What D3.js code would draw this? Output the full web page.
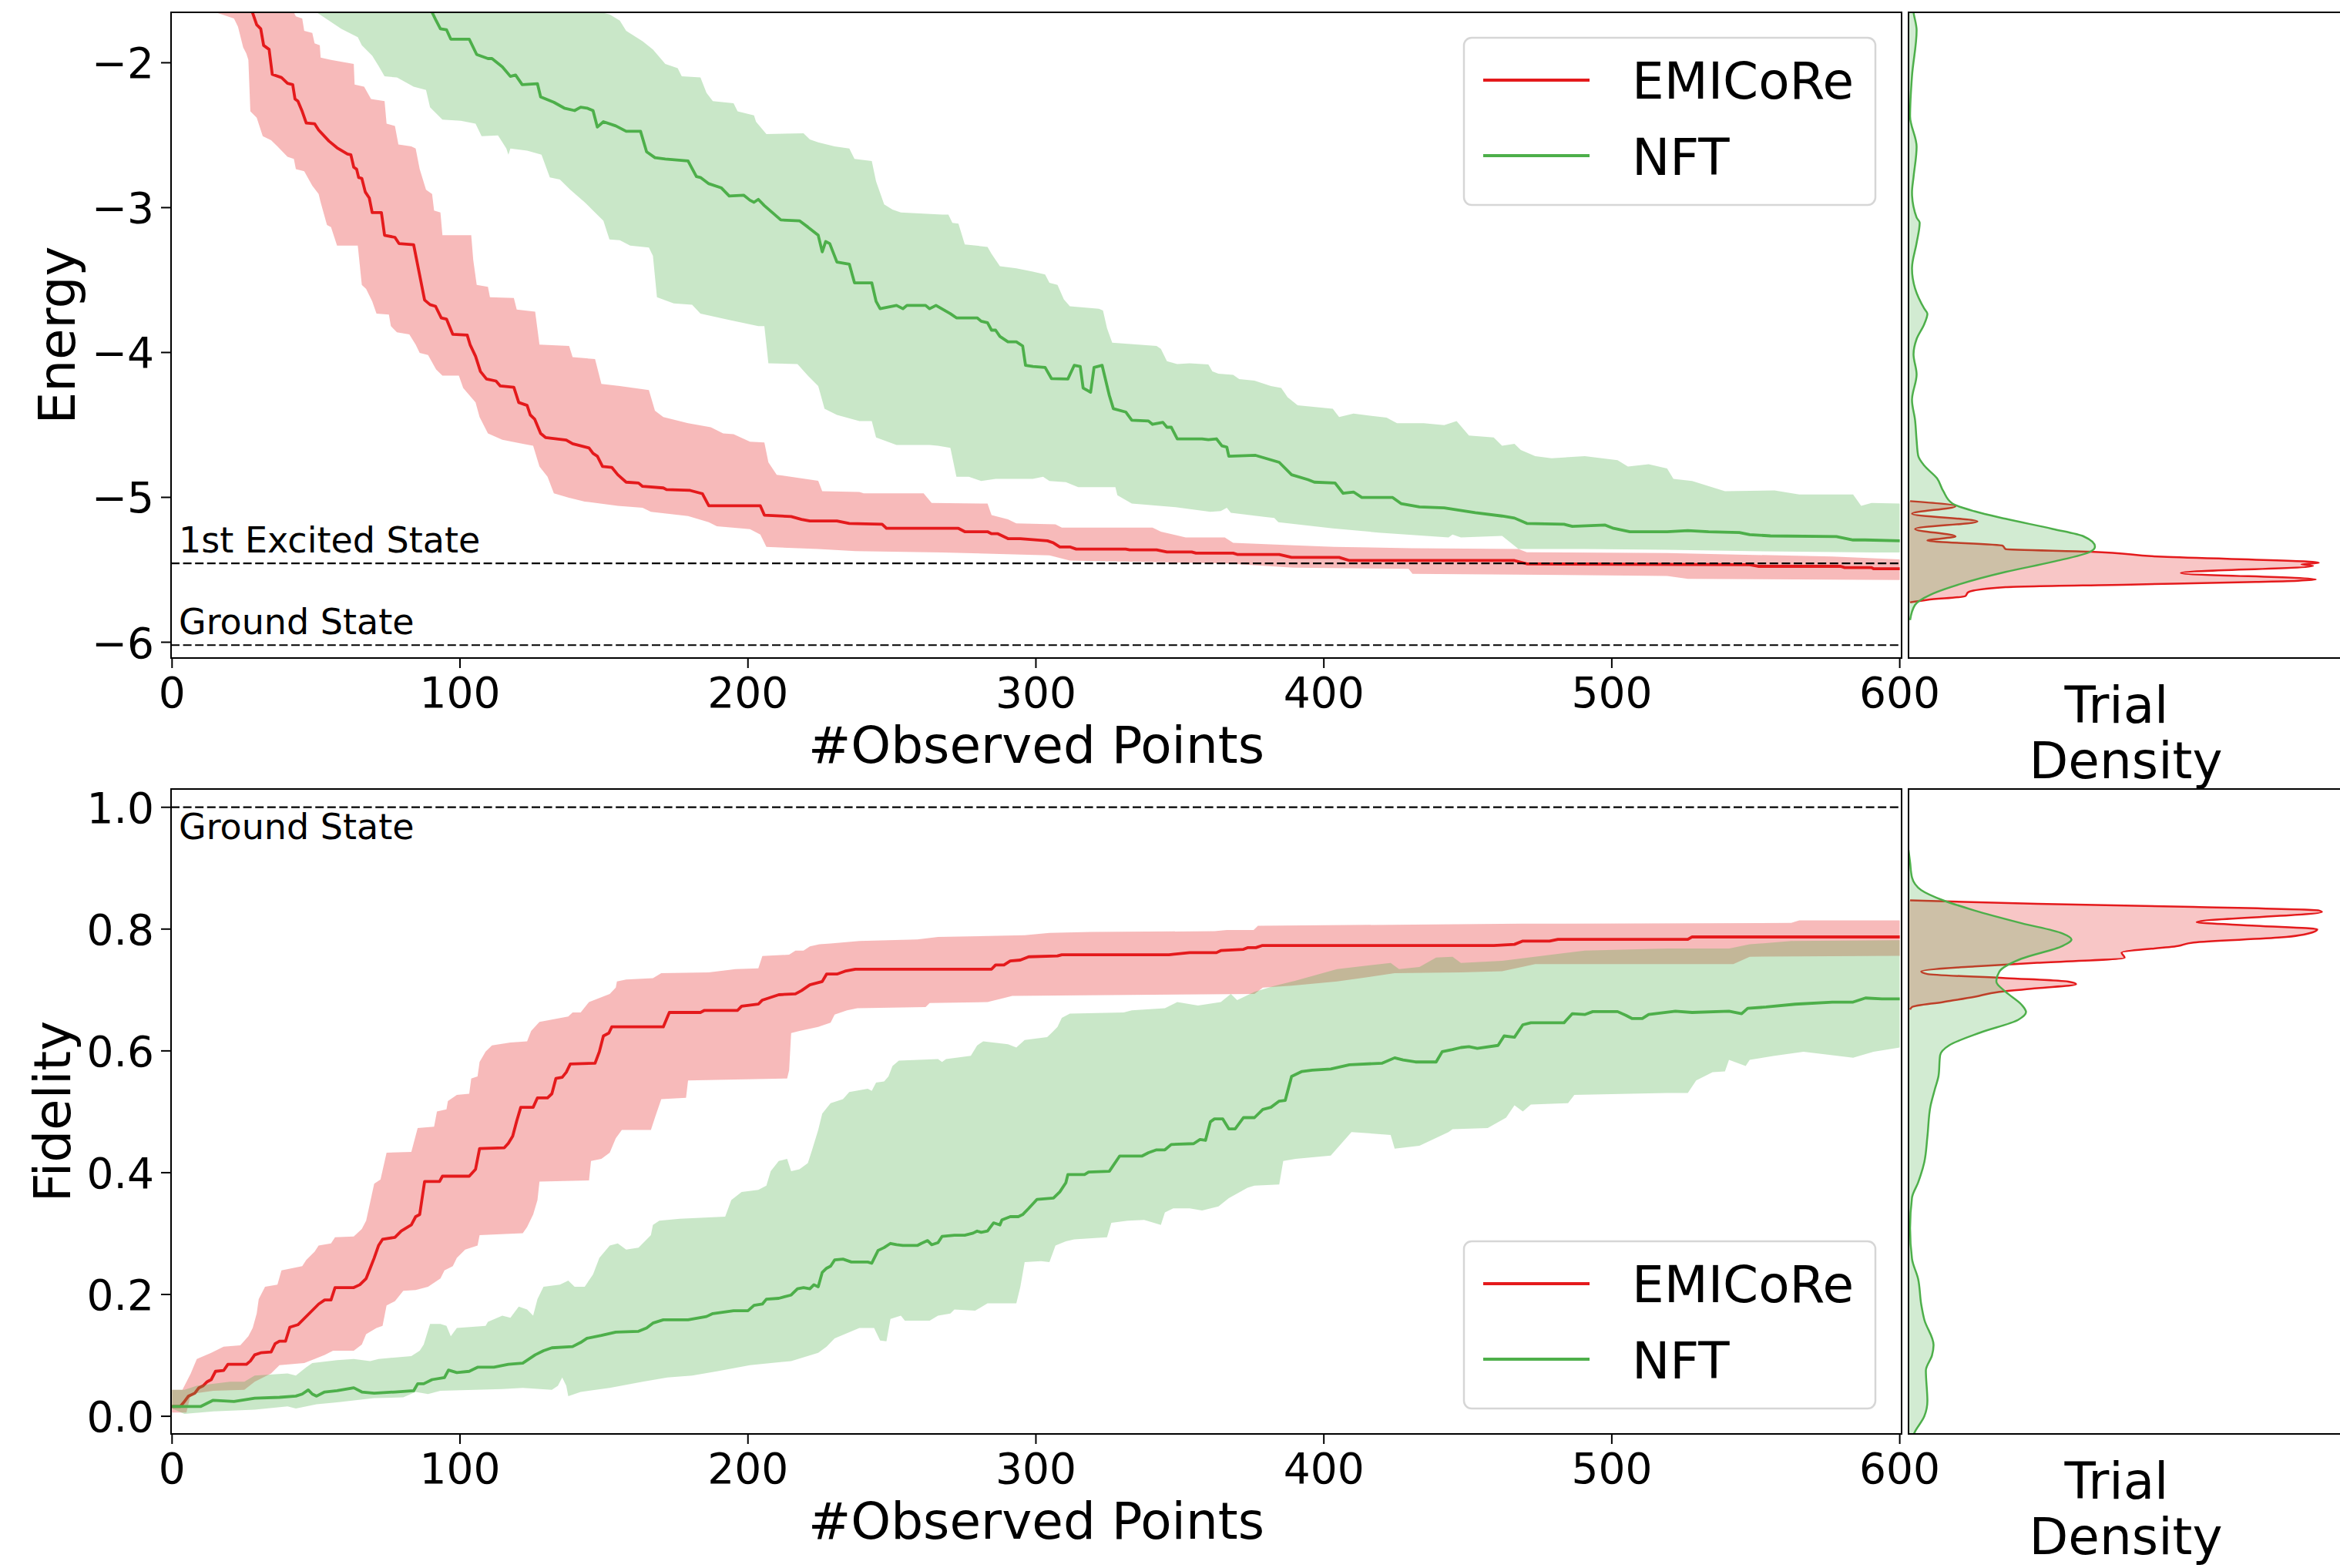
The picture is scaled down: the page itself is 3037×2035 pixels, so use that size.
<!DOCTYPE html>
<html>
<head>
<meta charset="utf-8">
<script src="https://cdn.jsdelivr.net/npm/d3@7"></script>
<style>
  body { margin: 0; background: #fff; }
  text { font-family: "DejaVu Sans", sans-serif; }
</style>
</head>
<body>
<script>
// ---- data: [#observed points, value] ----
var energyEmiMean = [[25,-1.55],[27.9,-1.652],[29.4,-1.738],[30.8,-1.766],[31.8,-1.88],[33.7,-1.908],[34.8,-2.08],[38,-2.102],[40.1,-2.142],[41.9,-2.151],[42.7,-2.25],[43.7,-2.265],[45.2,-2.336],[46.6,-2.416],[49.5,-2.421],[50.9,-2.464],[54.5,-2.541],[57.3,-2.587],[60.9,-2.63],[62.1,-2.635],[63.1,-2.721],[64.1,-2.735],[64.8,-2.792],[65.9,-2.798],[67.1,-2.892],[68.5,-2.934],[69.5,-3.034],[72.7,-3.034],[73.8,-3.191],[77.4,-3.205],[78.8,-3.248],[83.9,-3.256],[87.7,-3.638],[89.6,-3.67],[91.5,-3.681],[93.5,-3.761],[95.3,-3.769],[97.5,-3.875],[102.5,-3.88],[103.5,-3.946],[105.4,-4.026],[107.1,-4.131],[109.2,-4.183],[112.5,-4.197],[114,-4.231],[118.7,-4.24],[120.4,-4.345],[123.3,-4.365],[124.4,-4.431],[125.9,-4.459],[128,-4.559],[129.7,-4.587],[136.9,-4.604],[139.1,-4.63],[144.8,-4.659],[146.2,-4.696],[147.7,-4.716],[149.5,-4.787],[152.7,-4.793],[154.8,-4.844],[157.7,-4.895],[162,-4.901],[163.4,-4.924],[170.6,-4.935],[171.7,-4.946],[179.9,-4.952],[184.2,-4.975],[186.4,-5.058],[204.3,-5.058],[205.7,-5.123],[215,-5.132],[218.6,-5.152],[221.5,-5.163],[230.9,-5.163],[235.2,-5.18],[246.6,-5.186],[248.1,-5.214],[273.1,-5.214],[275.3,-5.237],[283.2,-5.237],[284.6,-5.251],[286.8,-5.251],[290.3,-5.285],[294.6,-5.285],[304,-5.3],[306.1,-5.314],[308.3,-5.342],[311.8,-5.342],[314,-5.357],[331.2,-5.357],[332.6,-5.362],[341.9,-5.362],[345.5,-5.377],[354.1,-5.377],[355.6,-5.385],[368.5,-5.385],[369.9,-5.394],[384.5,-5.394],[388.8,-5.414],[405.3,-5.414],[408.9,-5.436],[466.2,-5.436],[470.5,-5.459],[547.9,-5.465],[550.8,-5.476],[579.5,-5.476],[580.9,-5.485],[590.2,-5.485],[590.9,-5.493],[600,-5.493]];
var energyEmiLo = [[13,-1.6],[15.1,-1.652],[21.5,-1.695],[22.9,-1.752],[24.7,-1.894],[25.8,-1.937],[26.5,-1.98],[27.2,-2.336],[29.4,-2.379],[31.5,-2.507],[34.4,-2.535],[36.6,-2.578],[40.1,-2.649],[42.3,-2.664],[43,-2.735],[45.9,-2.749],[48.7,-2.849],[50.9,-2.906],[51.6,-2.963],[53.8,-3.12],[55.2,-3.134],[57.3,-3.262],[64.5,-3.262],[65.9,-3.533],[67.4,-3.561],[69.5,-3.647],[71,-3.732],[75.3,-3.738],[76,-3.818],[78.1,-3.861],[82.4,-3.875],[84.6,-3.946],[86,-4.003],[88.9,-4.017],[91.7,-4.117],[93.9,-4.16],[99.6,-4.16],[101.1,-4.245],[105.4,-4.345],[106.8,-4.445],[109.7,-4.559],[114.7,-4.602],[121.8,-4.63],[125.4,-4.644],[127.6,-4.787],[130.4,-4.858],[132.6,-4.972],[137.6,-5.001],[143.3,-5.029],[154.8,-5.058],[163.4,-5.072],[166.3,-5.1],[179.2,-5.129],[186.4,-5.172],[189.2,-5.2],[200.7,-5.22],[204.3,-5.257],[206.4,-5.342],[224.4,-5.357],[237.3,-5.371],[267.4,-5.38],[304.7,-5.4],[311.8,-5.436],[324.7,-5.442],[366.3,-5.456],[389.3,-5.485],[429.4,-5.493],[430.8,-5.528],[519.2,-5.542],[526.4,-5.562],[600,-5.57]];
var energyEmiHi = [[41,-1.6],[43,-1.68],[45.2,-1.695],[45.9,-1.78],[48.7,-1.794],[49.5,-1.866],[51.3,-1.88],[51.6,-1.965],[55.2,-1.98],[63.1,-2.008],[63.4,-2.151],[66.7,-2.165],[69.1,-2.25],[73.8,-2.265],[74.5,-2.421],[77.4,-2.436],[78.6,-2.564],[83.1,-2.578],[84.6,-2.592],[86,-2.735],[88.2,-2.877],[90.3,-2.906],[91,-3.02],[93.2,-3.034],[93.9,-3.191],[103.9,-3.191],[104.6,-3.362],[105.8,-3.533],[109.7,-3.547],[110.4,-3.618],[118.7,-3.624],[119.7,-3.704],[126.1,-3.718],[127.6,-3.946],[137.9,-3.955],[139.1,-4.032],[146.9,-4.046],[149.1,-4.217],[155.5,-4.231],[165.6,-4.26],[167.7,-4.402],[170.6,-4.445],[179.2,-4.488],[187.1,-4.516],[191.4,-4.559],[195,-4.564],[200.7,-4.616],[205.7,-4.621],[207.1,-4.758],[210,-4.844],[224.4,-4.886],[225.8,-4.958],[238.7,-4.963],[240.2,-4.972],[261,-4.972],[263.8,-5.038],[283.2,-5.043],[284.6,-5.123],[290.3,-5.152],[293.2,-5.18],[306.8,-5.186],[309,-5.209],[340.5,-5.209],[343.4,-5.237],[352,-5.277],[365.6,-5.277],[368.5,-5.314],[386.4,-5.328],[403.6,-5.342],[430.4,-5.351],[467.6,-5.357],[470.5,-5.379],[519.2,-5.385],[576.6,-5.408],[600,-5.428]];

var energyNftMean = [[88,-1.58],[90.3,-1.652],[91.7,-1.709],[93.2,-1.766],[95.3,-1.772],[96.8,-1.837],[103.2,-1.837],[105.8,-1.943],[109.7,-1.971],[111.1,-1.971],[114.7,-2.028],[117.5,-2.094],[119.3,-2.085],[121.6,-2.151],[126.9,-2.145],[128,-2.236],[132.6,-2.273],[136.2,-2.313],[139.8,-2.33],[141.9,-2.307],[144.1,-2.313],[146.2,-2.33],[147.7,-2.444],[149.8,-2.407],[154.1,-2.436],[157.7,-2.473],[162.7,-2.473],[164.8,-2.615],[167.7,-2.655],[171.3,-2.664],[179.2,-2.678],[182.1,-2.786],[183.5,-2.792],[186.4,-2.835],[190.7,-2.863],[193.5,-2.92],[198.5,-2.914],[200.7,-2.949],[202.1,-2.963],[203.6,-2.943],[205.7,-2.986],[211.4,-3.085],[217.9,-3.091],[220.8,-3.134],[224.4,-3.191],[225.8,-3.305],[227,-3.234],[228.4,-3.248],[230.9,-3.376],[235.2,-3.39],[237,-3.519],[243,-3.519],[244.5,-3.647],[245.9,-3.698],[251.6,-3.675],[253.8,-3.698],[255.2,-3.675],[261.7,-3.675],[263.1,-3.698],[265.3,-3.675],[270.3,-3.732],[272.4,-3.761],[279.6,-3.761],[281,-3.784],[283.2,-3.795],[284.6,-3.846],[286,-3.846],[287.5,-3.889],[290.3,-3.926],[293.2,-3.926],[295.4,-3.955],[296.4,-4.089],[299,-4.097],[303.2,-4.103],[305.4,-4.18],[311.1,-4.183],[313.3,-4.089],[315.4,-4.097],[316.4,-4.245],[319,-4.274],[320.2,-4.103],[323,-4.089],[325.5,-4.297],[326.9,-4.388],[331.2,-4.411],[333.3,-4.468],[339.1,-4.473],[340.5,-4.496],[344.1,-4.482],[345.5,-4.516],[347,-4.516],[349.1,-4.596],[357.7,-4.596],[359.9,-4.602],[362.7,-4.596],[364.6,-4.644],[366.3,-4.653],[367,-4.716],[376.3,-4.71],[384.5,-4.758],[388.8,-4.844],[394.5,-4.878],[396.7,-4.895],[403.9,-4.901],[406.7,-4.972],[410.3,-4.963],[413.2,-5.001],[423.9,-5.001],[426.8,-5.043],[433.2,-5.066],[441.8,-5.072],[446.1,-5.086],[452.6,-5.106],[461.9,-5.129],[466.2,-5.143],[470.5,-5.18],[483.4,-5.186],[486.3,-5.2],[497.7,-5.191],[500.6,-5.214],[506.3,-5.237],[519.2,-5.237],[526.4,-5.229],[533.6,-5.237],[544.3,-5.243],[547.9,-5.257],[555.1,-5.266],[578,-5.271],[583.8,-5.294],[588,-5.294],[600,-5.3]];
var energyNftLo = [[48,-1.6],[50.2,-1.652],[54.5,-1.709],[58.8,-1.766],[64.5,-1.823],[65.9,-1.88],[69.5,-1.951],[71.7,-2.022],[73.8,-2.094],[78.1,-2.102],[83.9,-2.165],[88.2,-2.188],[89.6,-2.307],[93.9,-2.393],[100.3,-2.401],[105.4,-2.421],[107.5,-2.507],[113.2,-2.501],[116.1,-2.592],[116.8,-2.635],[117.5,-2.592],[123.3,-2.607],[128.3,-2.635],[131.2,-2.792],[134.7,-2.806],[138.3,-2.877],[143.3,-2.963],[146.2,-3.02],[149.8,-3.091],[151.9,-3.219],[155.5,-3.225],[159.1,-3.262],[165.6,-3.276],[167,-3.333],[168.4,-3.618],[174.2,-3.661],[180.6,-3.67],[183.5,-3.732],[193.5,-3.775],[203.6,-3.818],[205.7,-3.818],[207.1,-4.074],[217.2,-4.08],[220.8,-4.16],[224.4,-4.231],[226.6,-4.388],[230.9,-4.431],[238.7,-4.473],[243,-4.473],[244.5,-4.587],[251.6,-4.639],[263.1,-4.639],[266,-4.644],[270.3,-4.659],[272.4,-4.858],[276.7,-4.858],[281,-4.887],[286,-4.872],[298.9,-4.872],[302.5,-4.858],[304.7,-4.887],[310.4,-4.895],[314.7,-4.929],[327.6,-4.929],[328.3,-4.986],[333.3,-5.043],[347.7,-5.066],[360.6,-5.1],[364.2,-5.095],[366.3,-5.072],[367.7,-5.106],[379.2,-5.134],[382.8,-5.143],[384.2,-5.172],[403.1,-5.214],[418.9,-5.243],[443.3,-5.277],[444.7,-5.257],[447.6,-5.277],[461.9,-5.266],[467.6,-5.357],[490.6,-5.357],[519.2,-5.362],[547.9,-5.371],[590.9,-5.38],[600,-5.38]];
var energyNftHi = [[147,-1.6],[149.1,-1.652],[152,-1.666],[155.5,-1.709],[157.7,-1.78],[163.4,-1.851],[167,-1.908],[171.3,-2.008],[175.6,-2.037],[177,-2.094],[183.5,-2.102],[185.6,-2.208],[187.8,-2.265],[195,-2.279],[196.4,-2.336],[202.1,-2.364],[202.8,-2.407],[206.4,-2.493],[219.3,-2.487],[221.5,-2.53],[224.4,-2.55],[230.1,-2.578],[235.2,-2.592],[237,-2.664],[243,-2.678],[244.5,-2.82],[247.3,-2.977],[250.2,-3.014],[253.1,-3.034],[267.4,-3.048],[269.6,-3.048],[271,-3.105],[273.1,-3.111],[275.3,-3.254],[283.2,-3.271],[284.6,-3.319],[287.5,-3.405],[293.2,-3.419],[298.9,-3.442],[303.2,-3.462],[304.7,-3.519],[307.5,-3.533],[309.7,-3.633],[311.8,-3.681],[321.9,-3.698],[323.3,-3.71],[324.7,-3.832],[326.5,-3.932],[341.9,-3.955],[343.4,-3.975],[345.5,-4.06],[349.1,-4.08],[353.4,-4.074],[359.9,-4.083],[361.3,-4.131],[363.4,-4.146],[368.5,-4.154],[370.6,-4.183],[375.9,-4.194],[381.6,-4.231],[385.2,-4.245],[387.4,-4.308],[390.9,-4.365],[403.1,-4.388],[405.3,-4.445],[410.3,-4.422],[421.8,-4.45],[425.4,-4.488],[434.7,-4.488],[441.8,-4.502],[446.1,-4.473],[450.4,-4.573],[459,-4.587],[461.9,-4.644],[466.2,-4.63],[468.4,-4.673],[473.4,-4.716],[479.1,-4.73],[490.6,-4.716],[502,-4.744],[505.6,-4.787],[512.8,-4.772],[519.2,-4.801],[521.4,-4.872],[527.9,-4.887],[539.3,-4.958],[556.5,-4.952],[565.1,-4.98],[583.8,-4.98],[586.6,-5.058],[590.2,-5.038],[600,-5.043]];

var fidEmiMean = [[0,0.0162],[2.9,0.0162],[4.3,0.0243],[5.7,0.0331],[7.9,0.0379],[9.3,0.0467],[10.8,0.0501],[12.2,0.0568],[13.6,0.0602],[15.1,0.0738],[17.9,0.0751],[19.4,0.0853],[25.8,0.0853],[27.2,0.0907],[28.7,0.1008],[30.8,0.1042],[34.4,0.1056],[35.8,0.1191],[37.3,0.1232],[39.4,0.1232],[40.9,0.1462],[43.7,0.1503],[50.9,0.1842],[53,0.191],[55.2,0.191],[56.6,0.2113],[63.1,0.2113],[65.2,0.216],[67.4,0.2262],[68.8,0.2431],[70.2,0.26],[71.7,0.2803],[73.1,0.2905],[77.4,0.2939],[79.6,0.3041],[83.1,0.3142],[84.6,0.3278],[86,0.3312],[87.7,0.3854],[92.9,0.3854],[93.9,0.3942],[103.2,0.3942],[105.4,0.4057],[106.8,0.4396],[115.4,0.4409],[116.8,0.4484],[118.3,0.4599],[119.7,0.4849],[121.1,0.5073],[125.4,0.5073],[126.9,0.5229],[130.4,0.5229],[131.9,0.5296],[133.3,0.5547],[135.5,0.5567],[136.9,0.5649],[138.3,0.5784],[146.9,0.5798],[148.4,0.5987],[149.8,0.6245],[151.7,0.6292],[152.7,0.6394],[170.6,0.6394],[172.7,0.6631],[183.5,0.6631],[184.9,0.6665],[196.4,0.6665],[197.8,0.6733],[203.6,0.6767],[205,0.6834],[210.7,0.6922],[216.5,0.6936],[218.6,0.699],[221.5,0.7085],[225.8,0.7139],[227.3,0.7261],[230.9,0.7261],[233.7,0.7308],[237.3,0.7342],[284.6,0.7342],[286,0.741],[288.9,0.741],[291.1,0.7478],[294.6,0.7491],[297.5,0.7545],[307.5,0.7559],[309,0.7579],[346.2,0.7579],[353.4,0.7613],[362.7,0.7613],[364.2,0.7647],[372.1,0.7668],[373.5,0.7695],[376.4,0.7695],[378.5,0.7729],[459,0.7729],[466.2,0.7749],[469.1,0.7803],[478.4,0.7803],[481.3,0.783],[526.4,0.783],[527.9,0.7871],[600,0.7871]];
var fidEmiLo = [[0,0.006],[5,0.006],[6.5,0.0365],[14.3,0.0419],[25.1,0.0433],[28.7,0.0568],[34.4,0.0704],[37.3,0.0839],[45.9,0.0873],[49.5,0.0941],[53,0.1008],[55.9,0.1076],[63.1,0.1076],[65.9,0.1178],[67.4,0.1347],[71,0.1449],[73.1,0.1483],[74.5,0.1821],[77.4,0.1889],[80.3,0.2059],[84.6,0.2072],[88.9,0.2126],[93.2,0.2262],[94.6,0.2397],[97.5,0.2465],[98.9,0.26],[101.8,0.2736],[106.1,0.2804],[106.8,0.2973],[121.8,0.3007],[123.3,0.3108],[125.4,0.3312],[126.9,0.3549],[127.6,0.3854],[144.8,0.3874],[145.5,0.4192],[149.1,0.4226],[152,0.4328],[154.1,0.4565],[156.2,0.47],[166.3,0.47],[167.7,0.4904],[169.9,0.5209],[178.5,0.5229],[179.2,0.5513],[213.6,0.5547],[214.3,0.5683],[215,0.6292],[217.9,0.6326],[224.4,0.6394],[228.7,0.6462],[230.1,0.6597],[234.4,0.6665],[238,0.6699],[261.7,0.672],[263.1,0.6787],[283.2,0.6801],[288.9,0.6868],[291.8,0.6902],[375.9,0.6936],[378.8,0.7038],[388.8,0.7072],[404.6,0.7139],[424.6,0.7275],[447.6,0.7288],[461.9,0.7309],[473.4,0.7424],[542.2,0.7424],[547.9,0.7546],[600,0.756]];
var fidEmiHi = [[0,0.0433],[3.6,0.0433],[6.5,0.0704],[8.6,0.0941],[13.6,0.1042],[17.9,0.1144],[23.7,0.1165],[26.5,0.1313],[28,0.1449],[29.4,0.1686],[30.1,0.1923],[32.3,0.2126],[36.6,0.216],[38,0.2397],[45.2,0.2465],[46.6,0.2566],[49.5,0.2702],[50.9,0.2804],[55.2,0.2837],[56.6,0.2939],[63.1,0.2953],[65.9,0.3075],[67.4,0.321],[68.8,0.3515],[70.2,0.382],[72.4,0.3888],[74.5,0.4328],[83.1,0.4341],[85.3,0.4734],[91,0.4755],[92,0.5005],[95.3,0.5039],[95.8,0.5175],[98.9,0.5276],[103.2,0.5297],[103.9,0.5547],[106.1,0.5581],[106.8,0.5818],[108.9,0.5988],[111.1,0.6089],[117.5,0.6136],[123.3,0.6157],[124.7,0.6326],[127.6,0.6475],[137.6,0.6563],[139.1,0.6631],[141.9,0.6631],[144.8,0.6801],[152,0.6936],[154.1,0.7038],[154.5,0.7139],[157.7,0.7173],[167,0.7193],[169.9,0.7275],[186.4,0.7288],[195.7,0.7342],[203.6,0.7356],[205,0.7559],[214.3,0.7579],[216.5,0.7647],[219.3,0.7647],[221.5,0.7715],[224.8,0.7749],[228.7,0.7762],[238.7,0.7803],[258.8,0.783],[266,0.7871],[296.1,0.7898],[304.7,0.7938],[319,0.7952],[362,0.7965],[366.3,0.7986],[375.6,0.7986],[377.1,0.8054],[469.1,0.8088],[562.3,0.8101],[565.1,0.8142],[600,0.8142]];

var fidNftMean = [[0,0.0162],[10,0.0162],[14.3,0.0263],[21.5,0.0243],[28.7,0.0297],[37.3,0.0311],[43,0.0331],[45.2,0.0365],[47.3,0.0433],[48.7,0.0365],[50.2,0.0331],[53,0.0399],[57.3,0.0419],[63.1,0.0467],[65.9,0.0399],[70.2,0.0379],[77.4,0.0399],[83.9,0.0419],[85.3,0.0534],[87.4,0.0534],[90.3,0.0602],[94.6,0.0636],[96,0.0758],[98.9,0.0717],[103.2,0.0738],[106.1,0.0805],[111.8,0.0805],[116.8,0.0853],[121.8,0.0873],[124,0.0941],[126.1,0.1008],[129,0.1076],[131.9,0.1124],[139.1,0.1144],[141.9,0.1212],[144.1,0.128],[149.1,0.1327],[154.1,0.1381],[162,0.1395],[164.8,0.1449],[167,0.153],[170.6,0.1584],[179.2,0.1584],[185.6,0.1638],[187.8,0.1686],[195,0.1733],[200,0.1733],[202.1,0.1821],[205,0.1842],[206.4,0.1923],[210.7,0.1937],[215,0.1991],[217.2,0.2093],[219.3,0.2113],[221.5,0.2093],[222.9,0.216],[224.4,0.2126],[225.8,0.2363],[227.3,0.2431],[228.7,0.2465],[230.1,0.2567],[233,0.258],[235.9,0.2533],[241.6,0.2533],[243,0.2513],[245.2,0.2723],[247.3,0.277],[249.5,0.2838],[251.6,0.2817],[253.8,0.2804],[258.8,0.2804],[260.2,0.2838],[262.4,0.2885],[263.8,0.2817],[266,0.2851],[267.4,0.2953],[271.7,0.2973],[275.3,0.2973],[278.2,0.3007],[279.6,0.3041],[281,0.302],[283.2,0.3041],[285.3,0.3176],[287.5,0.3142],[288.2,0.3224],[291.1,0.3278],[293.9,0.3278],[295.4,0.3312],[297.5,0.3414],[300.4,0.3562],[306.1,0.3583],[308.3,0.3684],[310.4,0.3834],[311.1,0.3969],[316.9,0.3969],[318.3,0.401],[325.5,0.4023],[329.1,0.4274],[336.9,0.4274],[339.1,0.4328],[341.9,0.4375],[344.8,0.4375],[347,0.4463],[354.8,0.4477],[357,0.4545],[358.9,0.4531],[360.6,0.4836],[362,0.4883],[364.9,0.4883],[367,0.472],[369.2,0.472],[372.1,0.4904],[375.9,0.4904],[378.8,0.5039],[381.6,0.5073],[384.5,0.5175],[386.6,0.5188],[388.8,0.5581],[392.4,0.5662],[396,0.5683],[402.4,0.5703],[408.9,0.5771],[420.3,0.5798],[424.6,0.5886],[427.5,0.5852],[431.8,0.5818],[439,0.5818],[441.1,0.5987],[444.7,0.6021],[447.6,0.6055],[450.4,0.6069],[453.3,0.6042],[460.5,0.609],[462.6,0.6245],[466.2,0.6225],[469.1,0.6428],[471.9,0.6462],[483.4,0.6462],[486.3,0.6611],[490.6,0.6597],[493.4,0.6645],[502,0.6645],[504.9,0.6584],[507.1,0.653],[510.6,0.653],[512.8,0.6597],[522.1,0.6651],[527.9,0.6631],[540.7,0.6651],[545.1,0.6611],[547.2,0.6699],[553.6,0.672],[563.7,0.6767],[576.6,0.6801],[583.8,0.6801],[588.1,0.6868],[593.8,0.6855],[600,0.6855]];
var fidNftLo = [[0,0.0128],[4.3,0.004],[14.3,0.0081],[28.7,0.0108],[40.1,0.0162],[43,0.0128],[50.2,0.0196],[57.3,0.023],[70.2,0.0297],[80.3,0.0311],[84.6,0.0399],[88.9,0.0365],[93.2,0.0419],[114.7,0.0446],[121.8,0.0467],[131.9,0.0433],[134,0.0501],[135.5,0.0636],[136.9,0.0501],[137.6,0.0331],[141.9,0.0399],[152,0.0467],[163.4,0.0568],[172,0.0636],[180.6,0.067],[189.2,0.0738],[200.7,0.0839],[215,0.0907],[224.4,0.1042],[227.3,0.1144],[230.1,0.1279],[238.7,0.1449],[243.8,0.1449],[245.9,0.1245],[248.1,0.1232],[249.5,0.1598],[253.1,0.1652],[254.5,0.1571],[263.1,0.1571],[266,0.1652],[270.3,0.1686],[271.7,0.1754],[278.9,0.1733],[283.2,0.1855],[293.2,0.1855],[294.6,0.2126],[296.1,0.2533],[301.8,0.2546],[304.7,0.2533],[306.8,0.2804],[310.4,0.2872],[313.3,0.2905],[324.7,0.2939],[326.2,0.3176],[331.9,0.321],[337.6,0.3224],[343.4,0.3142],[344.8,0.3346],[347.7,0.3414],[353.4,0.3414],[357.7,0.3379],[363.4,0.3447],[367,0.3583],[373.5,0.3752],[375.9,0.3786],[384.5,0.3806],[385.9,0.4192],[390.2,0.4226],[402.4,0.428],[409.6,0.4667],[423.2,0.462],[424.6,0.4396],[433.2,0.4443],[443.3,0.4667],[444.7,0.4714],[456.9,0.4734],[463.3,0.4904],[466.2,0.5107],[469.1,0.5005],[471.9,0.512],[484.8,0.5141],[487,0.5276],[519.2,0.531],[526.4,0.531],[529.3,0.5513],[535,0.5649],[539.3,0.5662],[540.7,0.5852],[546.5,0.575],[547.9,0.5852],[556.5,0.592],[566.6,0.5987],[583.8,0.5886],[590.9,0.5987],[600,0.6055]];
var fidNftHi = [[0,0.0433],[4.3,0.0433],[8.6,0.0501],[20.1,0.0568],[25.1,0.0568],[28.7,0.067],[40.1,0.0704],[43,0.067],[46.6,0.0805],[48.7,0.0873],[57.3,0.092],[63.1,0.0941],[68.8,0.0907],[71.7,0.0941],[83.1,0.0988],[86,0.1076],[87.4,0.1178],[89.6,0.1517],[93.2,0.1517],[95.3,0.1483],[96.8,0.1313],[98.9,0.1449],[108.9,0.1483],[109.7,0.155],[114.7,0.1652],[117.5,0.1618],[120.4,0.1801],[123.3,0.1754],[125.4,0.1652],[126.9,0.1923],[129,0.2126],[134.7,0.216],[137.6,0.2228],[139.8,0.2126],[143.3,0.2126],[146.2,0.233],[148.4,0.26],[152,0.2804],[154.8,0.2837],[157.7,0.2736],[162,0.277],[166.3,0.2973],[167,0.3142],[169.2,0.321],[176.3,0.3244],[192.1,0.3278],[194.2,0.3549],[197.8,0.3684],[203.6,0.3718],[206.4,0.3786],[207.9,0.4023],[210.7,0.4192],[213.6,0.4226],[215,0.4023],[217.9,0.4057],[220.8,0.4158],[222.2,0.4362],[224.4,0.47],[225.8,0.4971],[228.7,0.514],[233,0.5208],[235.2,0.5324],[241.6,0.5378],[243,0.5344],[244.5,0.548],[247.3,0.55],[248.8,0.5581],[250.2,0.5751],[252.4,0.5839],[266,0.5866],[267.4,0.5818],[268.8,0.5866],[277.4,0.592],[279.6,0.6089],[281.7,0.6157],[290.3,0.611],[293.2,0.6055],[296.1,0.6177],[303.9,0.6225],[305.4,0.6292],[307.5,0.6394],[309,0.6543],[311.8,0.6611],[330.5,0.6631],[333.3,0.6665],[344.8,0.6699],[349.1,0.6801],[356.3,0.6746],[364.2,0.6801],[367.7,0.6936],[369.9,0.6834],[375.9,0.697],[383.1,0.7072],[390.2,0.7153],[404.6,0.7342],[423.2,0.7444],[426.1,0.7342],[433.2,0.7376],[439,0.7532],[444.7,0.7546],[447.6,0.7444],[461.9,0.7478],[490.6,0.7647],[519.2,0.7681],[540.8,0.7681],[547.9,0.7749],[562.3,0.7803],[600,0.7817]];

// ---- trial densities: [value, density] ----
var densEnergyEmi = [[-5.026,0.04],[-5.061,1.22],[-5.113,0.09],[-5.166,1.79],[-5.218,0.17],[-5.27,1.22],[-5.298,0.49],[-5.333,2.44],[-5.357,2.52],[-5.375,4.72],[-5.41,6.59],[-5.445,10.49],[-5.452,10.65],[-5.462,10.2],[-5.473,10.5],[-5.522,7.07],[-5.567,10.57],[-5.584,9.02],[-5.602,5.77],[-5.62,2.52],[-5.655,1.55],[-5.682,1.47],[-5.707,0.49],[-5.725,0.04]];
var densEnergyNft = [[-1.6,0.1],[-1.654,0.13],[-1.776,0.21],[-2.091,0.09],[-2.37,0.04],[-2.58,0.21],[-2.789,0.13],[-2.894,0.09],[-3.069,0.21],[-3.104,0.29],[-3.244,0.21],[-3.419,0.09],[-3.558,0.17],[-3.698,0.41],[-3.733,0.49],[-3.803,0.41],[-3.907,0.21],[-4.012,0.13],[-4.152,0.21],[-4.327,0.09],[-4.467,0.17],[-4.606,0.21],[-4.711,0.25],[-4.781,0.41],[-4.869,0.74],[-4.956,0.9],[-5.043,1.14],[-5.096,1.71],[-5.148,2.52],[-5.218,3.74],[-5.27,4.55],[-5.34,4.84],[-5.375,4.72],[-5.445,3.74],[-5.515,2.52],[-5.602,1.3],[-5.672,0.57],[-5.742,0.17],[-5.847,0.04]];
var densFidEmi = [[0.8472,0.04],[0.8414,3.34],[0.8364,7.4],[0.8306,10.65],[0.8281,10.73],[0.8114,7.48],[0.8055,9.02],[0.7997,10.61],[0.7947,10.49],[0.7863,9.67],[0.778,7.4],[0.7721,6.99],[0.7613,5.53],[0.7529,5.61],[0.7446,3.34],[0.7387,1.71],[0.7304,0.33],[0.7262,0.49],[0.7195,2.52],[0.7137,4.15],[0.7095,4.35],[0.7028,3.34],[0.697,2.36],[0.6887,1.71],[0.6803,0.9],[0.672,0.09],[0.6678,0.04]];
var densFidNft = [[0.93,0.0],[0.9098,0.04],[0.8848,0.09],[0.864,0.33],[0.8472,0.9],[0.8306,1.71],[0.8097,2.93],[0.793,3.99],[0.783,4.23],[0.7721,3.99],[0.7513,2.93],[0.7304,2.36],[0.7137,2.28],[0.697,2.52],[0.6761,2.93],[0.6636,3.05],[0.6511,2.85],[0.6302,1.87],[0.6093,1.06],[0.5927,0.82],[0.5593,0.78],[0.5384,0.69],[0.5092,0.57],[0.4591,0.49],[0.4174,0.41],[0.384,0.25],[0.3589,0.09],[0.3088,0.04],[0.2588,0.09],[0.2254,0.25],[0.1836,0.33],[0.1586,0.41],[0.1169,0.65],[0.1002,0.61],[0.0751,0.45],[0.0251,0.49],[0.0,0.41],[-0.025,0.17],[-0.05,0.0]];

var xTicks = [0, 100, 200, 300, 400, 500, 600];
var energyTicks = [-6, -5, -4, -3, -2];
var fidelityTicks = [0, 0.2, 0.4, 0.6, 0.8, 1.0];
var energyLevels = [["1st Excited State", -5.455], ["Ground State", -6.02]];
var fidelityLevels = [["Ground State", 1.0]];
var seriesNames = ["EMICoRe", "NFT"];
var seriesColors = ["#e41a1c", "#4daf4a"];

// ---- figure ----
var width = 3037, height = 2035;
var svg = d3.select("body").append("svg")
    .attr("width", width)
    .attr("height", height);
svg.append("rect").attr("width", width).attr("height", height).attr("fill", "#fff");

var x = d3.scaleLinear().domain([-0.35, 600.64]).range([222, 2468]);
var dens = d3.scaleLinear().domain([0, 11.18]).range([2477, 3036]);

function drawRow(opt) {
    var y = d3.scaleLinear().domain(opt.yDomain).range(opt.yRange);
    var top = opt.yRange[1], bottom = opt.yRange[0];
    var g = svg.append("g");

    g.append("clipPath").attr("id", "clip" + opt.id)
      .append("rect").attr("x", 222).attr("y", top).attr("width", 2468 - 222).attr("height", bottom - top);
    var plot = g.append("g").attr("clip-path", "url(#clip" + opt.id + ")");

    var line = d3.line().x(function(d){ return x(d[0]); }).y(function(d){ return y(d[1]); });

    opt.series.forEach(function(s, i){
        //band: lower edge then upper edge reversed
        var poly = s.lo.concat(s.hi.slice().reverse());
        plot.append("path")
            .attr("d", line(poly) + "Z")
            .attr("fill", seriesColors[i])
            .attr("fill-opacity", 0.3);
        plot.append("path")
            .attr("d", line(s.mean))
            .attr("fill", "none")
            .attr("stroke", seriesColors[i])
            .attr("stroke-width", 3.8)
            .attr("stroke-linejoin", "round");
    });

    //reference levels
    opt.levels.forEach(function(l){
        plot.append("line")
            .attr("x1", 222).attr("x2", 2468)
            .attr("y1", y(l[1])).attr("y2", y(l[1]))
            .attr("stroke", "#000").attr("stroke-width", 2.2)
            .attr("stroke-dasharray", "11,4.6");
        g.append("text")
            .attr("x", 232).attr("y", y(l[1]) + opt.levelDy)
            .attr("font-size", 46)
            .text(l[0]);
    });

    //frame
    g.append("rect").attr("x", 222).attr("y", top).attr("width", 2468 - 222).attr("height", bottom - top)
        .attr("fill", "none").attr("stroke", "#000").attr("stroke-width", 2);

    //x ticks
    xTicks.forEach(function(t){
        g.append("line").attr("x1", x(t)).attr("x2", x(t)).attr("y1", bottom).attr("y2", bottom + 13)
            .attr("stroke", "#000").attr("stroke-width", 2);
        g.append("text").attr("x", x(t)).attr("y", bottom + 64)
            .attr("text-anchor", "middle").attr("font-size", 55).text(t);
    });
    //y ticks
    opt.yTicks.forEach(function(t){
        g.append("line").attr("x1", 222).attr("x2", 209).attr("y1", y(t)).attr("y2", y(t))
            .attr("stroke", "#000").attr("stroke-width", 2);
        g.append("text").attr("x", 200).attr("y", y(t) + 20)
            .attr("text-anchor", "end").attr("font-size", 55).text(opt.fmt(t));
    });

    g.append("text").attr("x", 1345).attr("y", bottom + 136)
        .attr("text-anchor", "middle").attr("font-size", 66).text("#Observed Points");
    g.append("text")
        .attr("transform", "translate(" + opt.yLabelX + "," + ((top + bottom) / 2) + ") rotate(-90)")
        .attr("text-anchor", "middle").attr("font-size", 66).text(opt.yLabel);

    //legend
    var lg = g.append("g").attr("transform", "translate(1900," + opt.legendY + ")");
    lg.append("rect").attr("width", 534).attr("height", 217).attr("rx", 10)
        .attr("fill", "#fff").attr("fill-opacity", 0.8)
        .attr("stroke", "#d6d6d6").attr("stroke-width", 2.5);
    seriesNames.forEach(function(n, i){
        lg.append("line").attr("x1", 25).attr("x2", 163)
            .attr("y1", 55 + i * 98).attr("y2", 55 + i * 98)
            .attr("stroke", seriesColors[i]).attr("stroke-width", 3.8);
        lg.append("text").attr("x", 218).attr("y", 79 + i * 99)
            .attr("font-size", 66).text(n);
    });

    //trial density panel
    var dg = svg.append("g");
    dg.append("rect").attr("x", 2477).attr("y", top).attr("width", 600).attr("height", bottom - top)
        .attr("fill", "#fff");
    dg.append("clipPath").attr("id", "dclip" + opt.id)
      .append("rect").attr("x", 2477).attr("y", top).attr("width", 600).attr("height", bottom - top);
    var dp = dg.append("g").attr("clip-path", "url(#dclip" + opt.id + ")");
    var area = d3.area()
        .y(function(d){ return y(d[0]); })
        .x0(dens(0))
        .x1(function(d){ return dens(d[1]); })
        .curve(d3.curveMonotoneY);
    var dline = d3.line()
        .y(function(d){ return y(d[0]); })
        .x(function(d){ return dens(d[1]); })
        .curve(d3.curveMonotoneY);
    opt.densities.forEach(function(dd, i){
        dp.append("path").attr("d", area(dd))
            .attr("fill", seriesColors[i]).attr("fill-opacity", 0.25);
        dp.append("path").attr("d", dline(dd))
            .attr("fill", "none").attr("stroke", seriesColors[i]).attr("stroke-width", 2.5);
    });
    dg.append("rect").attr("x", 2477).attr("y", top).attr("width", 600).attr("height", bottom - top)
        .attr("fill", "none").attr("stroke", "#000").attr("stroke-width", 2);
    dg.append("text").attr("x", 2747).attr("y", bottom + 84)
        .attr("text-anchor", "middle").attr("font-size", 66).text("Trial");
    dg.append("text").attr("x", 2759).attr("y", bottom + 156)
        .attr("text-anchor", "middle").attr("font-size", 66).text("Density");
}

drawRow({
    id: "energy",
    yDomain: [-6.109, -1.652], yRange: [854, 16],
    yTicks: energyTicks, fmt: d3.format(".0f"),
    yLabel: "Energy", yLabelX: 97,
    levels: energyLevels, levelDy: -14,
    legendY: 49,
    series: [
        {mean: energyEmiMean, lo: energyEmiLo, hi: energyEmiHi},
        {mean: energyNftMean, lo: energyNftLo, hi: energyNftHi}
    ],
    densities: [densEnergyEmi, densEnergyNft]
});

drawRow({
    id: "fidelity",
    yDomain: [-0.029, 1.030], yRange: [1861, 1024],
    yTicks: fidelityTicks, fmt: d3.format(".1f"),
    yLabel: "Fidelity", yLabelX: 91,
    levels: fidelityLevels, levelDy: 41,
    legendY: 1611,
    series: [
        {mean: fidEmiMean, lo: fidEmiLo, hi: fidEmiHi},
        {mean: fidNftMean, lo: fidNftLo, hi: fidNftHi}
    ],
    densities: [densFidEmi, densFidNft]
});
</script>
</body>
</html>
